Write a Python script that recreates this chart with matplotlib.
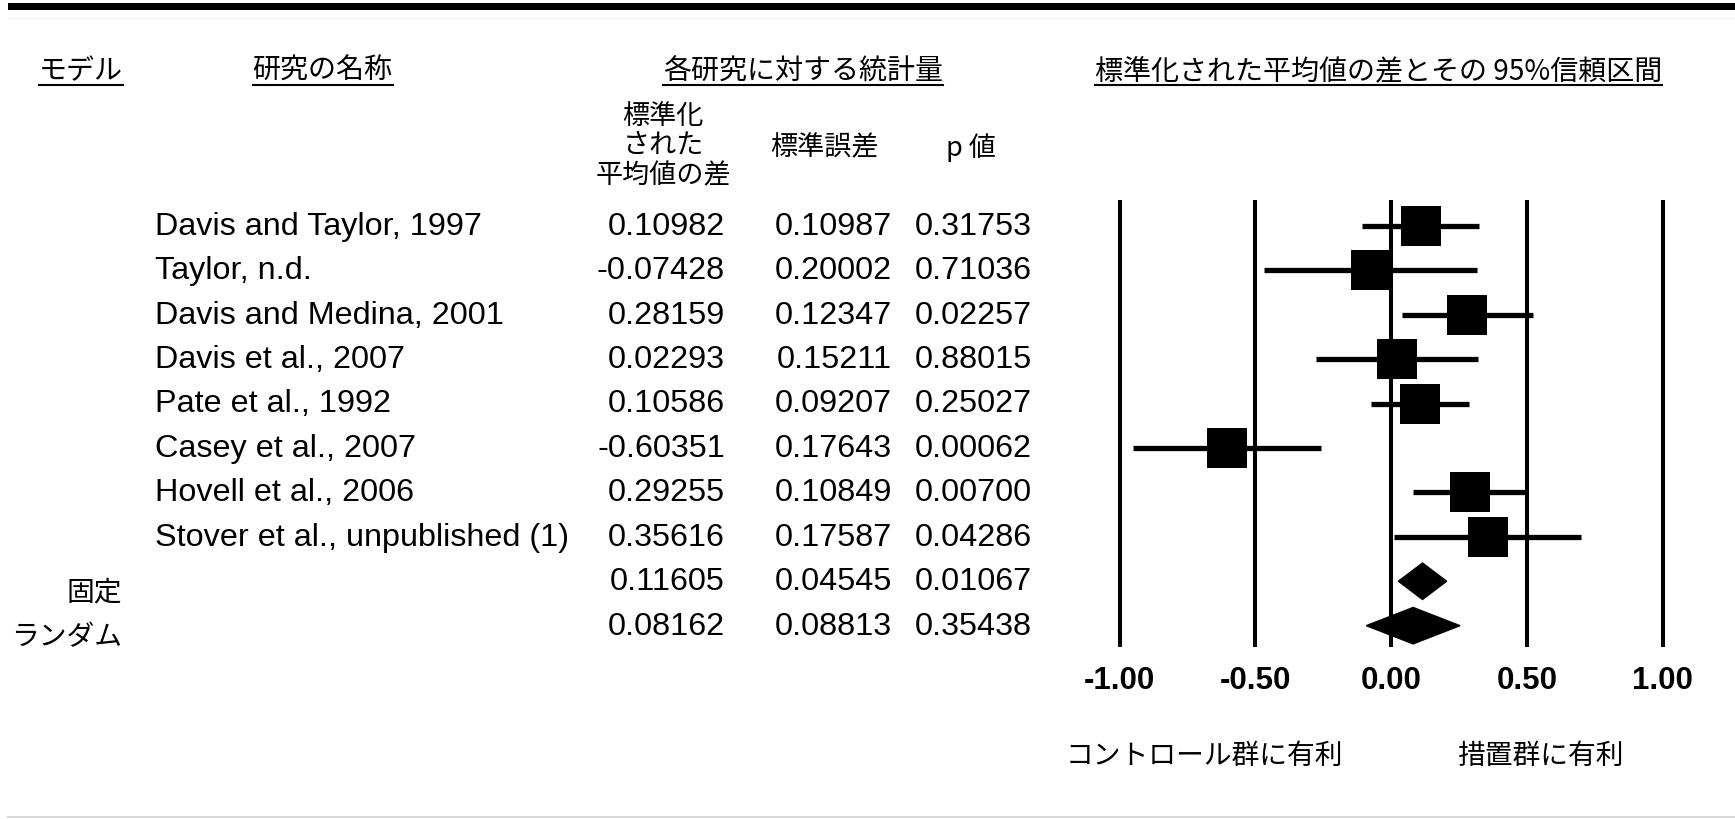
import matplotlib
matplotlib.use("Agg")
import matplotlib.pyplot as plt
import matplotlib.transforms as mtransforms
from matplotlib.patches import Polygon, Rectangle
from matplotlib.lines import Line2D

# fonts: Japanese text in Noto CJK, table text in an Arial-like face
JP = ["Noto Sans CJK JP", "DejaVu Sans"]
LAT = ["Liberation Sans", "DejaVu Sans"]

# study level data
studies = ["Davis and Taylor, 1997", "Taylor, n.d.", "Davis and Medina, 2001",
           "Davis et al., 2007", "Pate et al., 1992", "Casey et al., 2007",
           "Hovell et al., 2006", "Stover et al., unpublished (1)"]
smd = [0.10982, -0.07428, 0.28159, 0.02293, 0.10586, -0.60351, 0.29255, 0.35616]
se = [0.10987, 0.20002, 0.12347, 0.15211, 0.09207, 0.17643, 0.10849, 0.17587]
pval = [0.31753, 0.71036, 0.02257, 0.88015, 0.25027, 0.00062, 0.00700, 0.04286]
ci_low = [-0.106, -0.466, 0.040, -0.275, -0.075, -0.949, 0.080, 0.011]
ci_high = [0.325, 0.318, 0.524, 0.321, 0.286, -0.258, 0.505, 0.701]

# summary rows (fixed / random)
models = ["固定", "ランダム"]
sum_smd = [0.11605, 0.08162]
sum_se = [0.04545, 0.08813]
sum_p = [0.01067, 0.35438]
sum_low = [0.027, -0.091]
sum_high = [0.205, 0.254]

tick_vals = [-1.0, -0.5, 0.0, 0.5, 1.0]
tick_labels = ["-1.00", "-0.50", "0.00", "0.50", "1.00"]

W, H = 1735, 819
fig = plt.figure(figsize=(W / 100, H / 100), dpi=100)
fig.patch.set_facecolor("white")

def fx(px):
    return px / W

def fy(py):
    return 1 - py / H

# forest plot axes
ax = fig.add_axes([fx(1065.2), fy(647), 651.6 / W, 447 / H])
ax.set_xlim(-1.2, 1.2)
ax.set_ylim(9.48, -0.58)
ax.axis("off")

for v in tick_vals:
    ax.axvline(v, color="black", lw=2.9, zorder=1)

rows = list(range(len(studies)))
ax.hlines(rows, ci_low, ci_high, color="black", lw=3.8, zorder=2)
ax.scatter(smd, rows, marker="s", s=790, color="black", linewidths=0, zorder=3)

half_h = 0.41
for i in range(len(models)):
    r = len(studies) + i
    dia = Polygon([(sum_low[i], r), (sum_smd[i], r - half_h),
                   (sum_high[i], r), (sum_smd[i], r + half_h)],
                  closed=True, color="black", zorder=3)
    ax.add_patch(dia)

# tick labels under the plot
tick_tr = mtransforms.blended_transform_factory(ax.transData, fig.transFigure)
for v, lab in zip(tick_vals, tick_labels):
    ax.text(v, fy(681), lab, transform=tick_tr, ha="center", va="center",
            fontsize=22.5, fontweight="bold", family=LAT, clip_on=False)

fig.text(fx(1204), fy(756), "コントロール群に有利", ha="center", va="center",
         fontsize=20, family=JP)
fig.text(fx(1540), fy(756), "措置群に有利", ha="center", va="center",
         fontsize=20, family=JP)

# table on the left, rows follow the forest axes
row_tr = mtransforms.blended_transform_factory(fig.transFigure, ax.transData)
dy = 0.02  # small nudge so latin text lines up with the markers
for i, name in enumerate(studies):
    fig.text(fx(155), i + dy, name, transform=row_tr, ha="left", va="center",
             fontsize=23.3, family=LAT)

all_smd = smd + sum_smd
all_se = se + sum_se
all_p = pval + sum_p
for i in range(len(all_smd)):
    fig.text(fx(725), i + dy, f"{all_smd[i]:.5f}", transform=row_tr, ha="right",
             va="center", fontsize=23.3, family=LAT)
    fig.text(fx(892), i + dy, f"{all_se[i]:.5f}", transform=row_tr, ha="right",
             va="center", fontsize=23.3, family=LAT)
    fig.text(fx(1032), i + dy, f"{all_p[i]:.5f}", transform=row_tr, ha="right",
             va="center", fontsize=23.3, family=LAT)

for i, m in enumerate(models):
    fig.text(fx(122), len(studies) + i + 0.26, m, transform=row_tr, ha="right",
             va="center", fontsize=20, family=JP)

# column headers
headers = [("モデル", 80.5), ("研究の名称", 322.5), ("各研究に対する統計量", 803),
           ("標準化された平均値の差とその 95%信頼区間", 1378.5)]
head_txt = []
for lab, x in headers:
    t = fig.text(fx(x), fy(71), lab, ha="center", va="center", fontsize=20.2, family=JP)
    head_txt.append(t)

fig.text(fx(663), fy(116), "標準化", ha="center", va="center", fontsize=19.5, family=JP)
fig.text(fx(663), fy(145), "された", ha="center", va="center", fontsize=19.5, family=JP)
fig.text(fx(663), fy(176), "平均値の差", ha="center", va="center", fontsize=19.5, family=JP)
fig.text(fx(824), fy(148), "標準誤差", ha="center", va="center", fontsize=19.5, family=JP)
fig.text(fx(971), fy(148), "p 値", ha="center", va="center", fontsize=19.5, family=JP)

# underline the headers
fig.canvas.draw()
rend = fig.canvas.get_renderer()
for t in head_txt:
    bb = t.get_window_extent(rend)
    fig.add_artist(Line2D([bb.x0 / W, bb.x1 / W], [fy(85), fy(85)],
                          transform=fig.transFigure, color="black", lw=1.5))

# thick rule at the top, faint rule at the bottom
fig.add_artist(Rectangle((fx(8), fy(10)), 1 - fx(8), 7 / H, transform=fig.transFigure,
                         color="black", lw=0))
fig.add_artist(Line2D([fx(8), 1], [fy(18), fy(18)], transform=fig.transFigure,
                      color="#f0f0f0", lw=1))
fig.add_artist(Line2D([fx(8), 1], [fy(817), fy(817)], transform=fig.transFigure,
                      color="#d8d8d8", lw=1.5))

fig.savefig("out.png", dpi=100, facecolor="white")
